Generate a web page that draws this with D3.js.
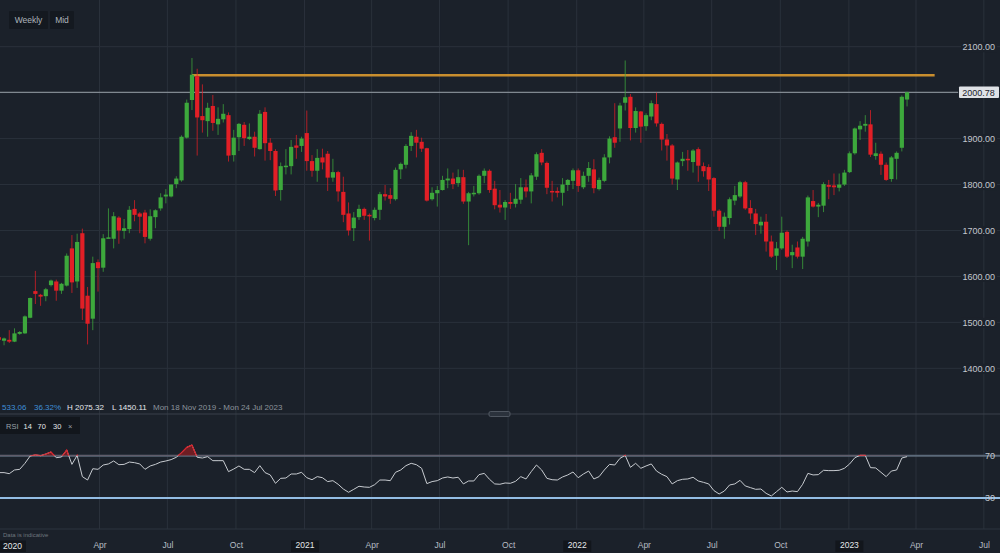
<!DOCTYPE html>
<html>
<head>
<meta charset="utf-8">
<script src="https://cdn.jsdelivr.net/npm/d3@7"></script>
<style>
  html, body { margin: 0; padding: 0; background: #1b212a; }
  svg { display: block; font-family: "Liberation Sans", Arial, sans-serif; }
</style>
</head>
<body>
<svg id="chart" width="1000" height="553"></svg>
<script>
// weekly candles, Mon 18 Nov 2019 .. Mon 20 Mar 2023
var open = [1467.72,1460,1462,1458,1475,1476,1510,1568,1560,1557,1581,1589,1569,1580,1661,1589,1694,1558,1508,1631,
  1619,1684,1682,1728,1699,1703,1747,1737,1739,1682,1729,1748,1774,1774,1801,1809,1902,1984,2036,1949,
  1938,1971,1931,1942,1951,1864,1903,1930,1899,1904,1877,1958,1891,1873,1788,1839,1840,1885,1884,1912,
  1851,1830,1859,1867,1815,1827,1784,1737,1705,1729,1747,1734,1727,1745,1779,1777,1768,1833,1843,1884,
  1904,1893,1879,1768,1781,1788,1809,1813,1803,1816,1763,1780,1781,1819,1830,1791,1756,1750,1762,1758,
  1767,1794,1785,1817,1869,1847,1786,1786,1782,1799,1808,1831,1794,1819,1833,1790,1808,1859,1903,1922,
  1978,1991,1923,1959,1927,1948,1975,1932,1898,1885,1811,1851,1856,1849,1877,1840,1838,1814,1743,1708,
  1727,1765,1774,1805,1749,1737,1711,1719,1676,1645,1661,1697,1646,1663,1643,1676,1764,1752,1754,1799,
  1798,1793,1800,1827,1868,1920,1928,1931,1862,1867,1843,1812,1856,1880,1985];
var high = [1470,1467,1483,1487,1481,1515,1554,1612,1562,1575,1593,1593,1586,1650,1690,1693,1704,1577,1643,1637,
  1692,1748,1740,1731,1725,1753,1766,1740,1745,1746,1746,1781,1790,1800,1818,1907,1985,2075.32,2052,2018,
  1978,1995,1968,1975,1957,1919,1934,1936,1933,1915,1962,1968,1901,1877,1848,1877,1897,1908,1904,1961,
  1864,1877,1878,1873,1856,1830,1817,1761,1740,1756,1750,1737,1750,1784,1799,1792,1837,1848,1888,1914,
  1919,1902,1880,1794,1797,1819,1835,1826,1833,1832,1784,1797,1822,1835,1833,1808,1788,1766,1782,1801,
  1814,1811,1825,1870,1877,1850,1808,1794,1814,1812,1835,1835,1828,1849,1855,1815,1866,1905,1977,1978,
  2070,1997,1968,1960,1955,1983,2000,1935,1910,1888,1850,1871,1875,1877,1881,1848,1844,1816,1746,1739,
  1772,1797,1808,1808,1766,1747,1730,1736,1689,1675,1730,1700,1669,1676,1686,1776,1788,1760,1805,1810,
  1824,1824,1832,1872,1924,1938,1951,1962,1891,1872,1848,1862,1872,1994,2002];
var low = [1458,1450.11,1455,1457,1473,1475,1509,1540,1536,1546,1578,1547,1562,1578,1564,1575,1505,1452,1483,1567,
  1610,1683,1661,1671,1682,1694,1720,1694,1672,1678,1705,1743,1759,1772,1792,1806,1900,1962,1863,1913,
  1904,1917,1908,1935,1850,1850,1873,1884,1897,1861,1876,1852,1853,1775,1765,1822,1822,1856,1871,1830,
  1817,1806,1833,1786,1806,1763,1718,1689,1677,1723,1723,1678,1722,1723,1765,1758,1765,1812,1835,1873,
  1859,1871,1763,1765,1752,1787,1792,1790,1795,1758,1668,1774,1778,1803,1782,1746,1739,1723,1747,1750,
  1758,1772,1759,1810,1842,1779,1763,1772,1754,1786,1790,1784,1790,1806,1781,1787,1805,1846,1880,1893,
  1961,1896,1913,1891,1917,1940,1926,1874,1852,1800,1788,1840,1830,1826,1806,1817,1786,1730,1699,1682,
  1713,1755,1771,1745,1724,1690,1693,1654,1640,1614,1658,1640,1618,1639,1616,1665,1750,1729,1740,1768,
  1777,1785,1797,1825,1865,1897,1915,1860,1854,1821,1808,1806,1811,1872,1970];
var close = [1462,1465,1458,1476,1479,1513,1553,1562,1556,1572,1591,1569,1584,1645,1587,1675,1530,1497,1629,1618,
  1683,1685,1731,1700,1705,1745,1734,1730,1686,1731,1744,1772,1778,1800,1813,1904,1978,2039,1946,1940,
  1967,1934,1943,1954,1863,1902,1932,1901,1904,1880,1954,1890,1873,1787,1840,1841,1882,1880,1900,1851,
  1830,1858,1848,1815,1827,1785,1734,1700,1728,1747,1732,1731,1745,1779,1774,1769,1832,1845,1884,1906,
  1891,1878,1765,1782,1788,1810,1813,1801,1816,1763,1781,1782,1819,1830,1788,1755,1750,1762,1758,1769,
  1794,1785,1820,1866,1848,1793,1784,1782,1800,1810,1831,1797,1819,1836,1792,1810,1859,1900,1891,1972,
  1990,1923,1960,1926,1951,1977,1933,1898,1885,1813,1848,1856,1853,1874,1841,1829,1811,1743,1708,1730,
  1768,1777,1805,1748,1737,1714,1719,1676,1643,1661,1695,1643,1653,1643,1682,1772,1752,1756,1801,1795,
  1794,1800,1826,1868,1922,1928,1932,1865,1868,1843,1810,1859,1869,1991,2000.78];

// RSI(14), one value per week
var rsi = [54,54,53,56.5,57.1,62.8,69.7,70.7,70,71.6,73.5,68.1,68.8,75.4,61.8,70.3,50.2,47,57.7,57.1,
  61.2,62.2,65,61.5,61.8,64,63.4,62.2,57.1,60.3,61.8,64,65,66.3,68.5,72.9,77.9,80.1,68.5,67.8,
  69.1,65.3,65.3,65.3,54.9,57.4,60.3,57.1,57.1,54,60.6,54,51.8,43.9,48.6,48.9,52.7,52.7,54.3,49.2,
  47.3,50.2,49.2,45.5,46.4,43,38.5,35.4,38.2,41.1,40.4,40.1,42.6,47,47,46.4,54.3,56.5,60.6,62.8,
  61.5,58.1,43.6,45.5,46.4,48.9,49.9,48.9,49.6,43.3,46.1,46.1,52.1,53.3,47.7,43.3,43,44.2,43.9,45.8,
  50.2,48,54.9,61.2,56.5,48.6,47.3,47,49.9,51.8,54.6,49.2,52.7,55.5,48,50.2,56.5,61.8,61.2,67.5,
  70.3,59,62.8,58.1,60.3,62.2,55.5,52.4,50.2,43.3,46.4,47.7,48,49.6,46.1,44.8,43.3,37,33.8,36.6,
  42.3,43.3,46.7,41.4,39.8,38.2,38.5,34.4,31.9,36,40.1,35.7,36.6,36,43,53.3,51.8,52.1,56.2,55.9,
  55.9,56.2,58.1,62.2,68.1,70.3,70.3,58.7,58.4,54.3,50.2,55.5,56.5,67.8,69.1];

var weeks = d3.utcMonday.range(new Date(Date.UTC(2019, 10, 18)), new Date(Date.UTC(2023, 2, 21)));

var priceTicks = [1400, 1500, 1600, 1700, 1800, 1900, 2000, 2100];
var priceLabels = [1400, 1500, 1600, 1700, 1800, 1900, 2100]; // 2000.00 sits under the last-price tag
var timeTicks = [
  [2020, 3], [2020, 6], [2020, 9], [2021, 0], [2021, 3], [2021, 6], [2021, 9],
  [2022, 0], [2022, 3], [2022, 6], [2022, 9], [2023, 0], [2023, 3], [2023, 6]
].map(function(d) { return new Date(Date.UTC(d[0], d[1], 1)); });

var lastPrice = 2000.78;
var resistance = 2038;
var resistanceFrom = weeks[37];
var resistanceTo = new Date(Date.UTC(2023, 3, 26));

var svg = d3.select("#chart");

var x = d3.scaleUtc()
  .domain([new Date(Date.UTC(2020, 3, 1)), new Date(Date.UTC(2023, 3, 1))])
  .range([99.5, 916]);
var y = d3.scaleLinear().domain([1400, 2100]).range([368.3, 46.7]);
var yr = d3.scaleLinear().domain([30, 70]).range([498, 455.7]);

var gridColor = "#2a313b";
var textColor = "#c3c8ce";

// vertical grid
svg.append("g").selectAll("line")
  .data(timeTicks)
  .enter().append("line")
  .attr("x1", d => x(d)).attr("x2", d => x(d))
  .attr("y1", 0).attr("y2", 529)
  .attr("stroke", gridColor).attr("stroke-width", 1);

// horizontal price grid
svg.append("g").selectAll("line")
  .data(priceTicks)
  .enter().append("line")
  .attr("x1", 0).attr("x2", 1000)
  .attr("y1", d => y(d)).attr("y2", d => y(d))
  .attr("stroke", gridColor).attr("stroke-width", 1);

// price axis labels
var yAxis = svg.append("g")
  .attr("transform", "translate(995,0)")
  .call(d3.axisLeft(y).tickValues(priceLabels).tickFormat(d3.format(".2f")).tickSize(0).tickPadding(0));
yAxis.select(".domain").remove();
yAxis.selectAll(".tick").insert("rect", "text")
  .attr("x", -34).attr("y", -5).attr("width", 36).attr("height", 10).attr("fill", "#1b212a");
yAxis.selectAll("text").attr("fill", textColor).attr("font-size", 9)
  .attr("font-family", "Liberation Sans, Arial, sans-serif");

// resistance line
svg.append("line")
  .attr("x1", x(resistanceFrom)).attr("x2", x(resistanceTo))
  .attr("y1", y(resistance)).attr("y2", y(resistance))
  .attr("stroke", "#c98e2e").attr("stroke-width", 2.5);

// last price line
svg.append("line")
  .attr("x1", 0).attr("x2", 958)
  .attr("y1", y(lastPrice)).attr("y2", y(lastPrice))
  .attr("stroke", "#9aa1a9").attr("stroke-width", 1);

// candles
var up = "#3da83c", down = "#e21f26";
var candles = svg.append("g").selectAll("g")
  .data(weeks)
  .enter().append("g");
candles.append("line")
  .attr("x1", d => x(d)).attr("x2", d => x(d))
  .attr("y1", (d, i) => y(high[i])).attr("y2", (d, i) => y(low[i]))
  .attr("stroke", (d, i) => close[i] >= open[i] ? up : down)
  .attr("stroke-opacity", 0.75)
  .attr("stroke-width", 1);
candles.append("rect")
  .attr("x", d => x(d) - 2.1)
  .attr("width", 4.2)
  .attr("y", (d, i) => y(Math.max(open[i], close[i])))
  .attr("height", (d, i) => Math.max(1.5, Math.abs(y(open[i]) - y(close[i]))))
  .attr("fill", (d, i) => close[i] >= open[i] ? up : down);

// last price tag
svg.append("rect").attr("x", 959).attr("y", y(lastPrice) - 5.8).attr("width", 40).attr("height", 11.6)
  .attr("fill", "#dfe2e6").attr("rx", 1);
svg.append("text").attr("x", 978.5).attr("y", y(lastPrice) + 3.3)
  .attr("text-anchor", "middle").attr("font-size", 9).attr("fill", "#1b212a")
  .text(d3.format(".2f")(lastPrice));

// top buttons
var buttons = [["Weekly", 9, 39], ["Mid", 50, 24]];
buttons.forEach(function(b) {
  svg.append("rect").attr("x", b[1]).attr("y", 11).attr("width", b[2]).attr("height", 18)
    .attr("fill", "#141920").attr("rx", 1);
  svg.append("text").attr("x", b[1] + b[2] / 2).attr("y", 23.3)
    .attr("text-anchor", "middle").attr("font-size", 8.5).attr("fill", "#aeb5bd").text(b[0]);
});

// info row
var change = lastPrice - open[0];
var info = svg.append("text").attr("y", 410).attr("font-size", 8);
info.append("tspan").attr("x", 2).attr("fill", "#3f8fd8").text(d3.format(".2f")(change));
info.append("tspan").attr("x", 34).attr("fill", "#3f8fd8").text(d3.format(".2f")(change / open[0] * 100) + "%");
info.append("tspan").attr("x", 67).attr("fill", "#e4e7ea").text("H " + d3.format(".2f")(d3.max(high)));
info.append("tspan").attr("x", 112).attr("fill", "#e4e7ea").text("L " + d3.format(".2f")(d3.min(low)));
info.append("tspan").attr("x", 153).attr("fill", "#8c939b").text("Mon 18 Nov 2019 - Mon 24 Jul 2023");

// panel separator + handle
svg.append("line").attr("x1", 0).attr("x2", 1000).attr("y1", 414).attr("y2", 414)
  .attr("stroke", "#3a414b").attr("stroke-width", 1);
svg.append("rect").attr("x", 489).attr("y", 411.5).attr("width", 21).attr("height", 5).attr("rx", 1.5)
  .attr("fill", "#2b323c").attr("stroke", "#5a626c").attr("stroke-width", 0.8);

// RSI legend box
svg.append("rect").attr("x", 0).attr("y", 417).attr("width", 80).attr("height", 17).attr("fill", "#12161c");
var leg = svg.append("text").attr("y", 428.5).attr("font-size", 7.5);
leg.append("tspan").attr("x", 6).attr("fill", "#9aa1a9").text("RSI");
leg.append("tspan").attr("x", 23.5).attr("fill", "#e4e7ea").text("14");
leg.append("tspan").attr("x", 37.5).attr("fill", "#e4e7ea").text("70");
leg.append("tspan").attr("x", 53).attr("fill", "#e4e7ea").text("30");
leg.append("tspan").attr("x", 68).attr("fill", "#9aa1a9").text("\u00d7");

// RSI bands
svg.append("line").attr("x1", 0).attr("x2", 1000).attr("y1", yr(70)).attr("y2", yr(70))
  .attr("stroke", "#5b6979").attr("stroke-width", 2);
svg.append("line").attr("x1", 0).attr("x2", 1000).attr("y1", yr(30)).attr("y2", yr(30))
  .attr("stroke", "#93bde4").attr("stroke-width", 2);

svg.append("defs").append("clipPath").attr("id", "ob")
  .append("rect").attr("x", 0).attr("y", 430).attr("width", 1000).attr("height", yr(70) - 430);

svg.append("path")
  .datum(weeks)
  .attr("clip-path", "url(#ob)")
  .attr("fill", "#7c1c22").attr("fill-opacity", 0.85)
  .attr("d", d3.area().x(d => x(d)).y0(yr(70)).y1((d, i) => yr(rsi[i])));

svg.append("path")
  .datum(weeks)
  .attr("fill", "none").attr("stroke", "#c7cbd0").attr("stroke-width", 1)
  .attr("d", d3.line().x(d => x(d)).y((d, i) => yr(rsi[i])));

svg.append("path")
  .datum(weeks)
  .attr("clip-path", "url(#ob)")
  .attr("fill", "none").attr("stroke", "#d9222a").attr("stroke-width", 1.2)
  .attr("d", d3.line().x(d => x(d)).y((d, i) => yr(rsi[i])));

// RSI labels
[70, 30].forEach(function(v) {
  svg.append("text").attr("x", 995).attr("y", yr(v) + 3.2).attr("text-anchor", "end")
    .attr("font-size", 9).attr("fill", textColor).text(v);
});

// bottom separator + note
svg.append("line").attr("x1", 0).attr("x2", 1000).attr("y1", 529).attr("y2", 529)
  .attr("stroke", "#2d343e").attr("stroke-width", 1);
svg.append("text").attr("x", 3).attr("y", 537).attr("font-size", 6).attr("fill", "#6f767e")
  .text("Data is indicative");

// time axis
var monthFmt = d3.utcFormat("%b"), yearFmt = d3.utcFormat("%Y");
var xAxis = svg.append("g")
  .attr("transform", "translate(0,542)")
  .call(d3.axisBottom(x).tickValues(timeTicks).tickSize(0).tickPadding(0)
    .tickFormat(d => d.getUTCMonth() === 0 ? yearFmt(d) : monthFmt(d)));
xAxis.select(".domain").remove();
xAxis.selectAll("text").attr("fill", "#b7bdc4").attr("font-size", 8.5)
  .attr("font-family", "Liberation Sans, Arial, sans-serif").attr("dy", "0.71em");
xAxis.selectAll(".tick").filter(d => d.getUTCMonth() === 0)
  .insert("rect", "text")
  .attr("x", -14).attr("y", -1.5).attr("width", 28).attr("height", 11.5).attr("fill", "#12161c");
xAxis.selectAll(".tick").filter(d => d.getUTCMonth() === 0).select("text").attr("fill", "#e4e7ea");

// sticky first year label
svg.append("rect").attr("x", 0).attr("y", 540.5).attr("width", 26).attr("height", 11.5).attr("fill", "#12161c");
svg.append("text").attr("x", 3).attr("y", 548.5).attr("font-size", 8.5).attr("fill", "#e4e7ea")
  .text(yearFmt(weeks[10]));
</script>
</body>
</html>
